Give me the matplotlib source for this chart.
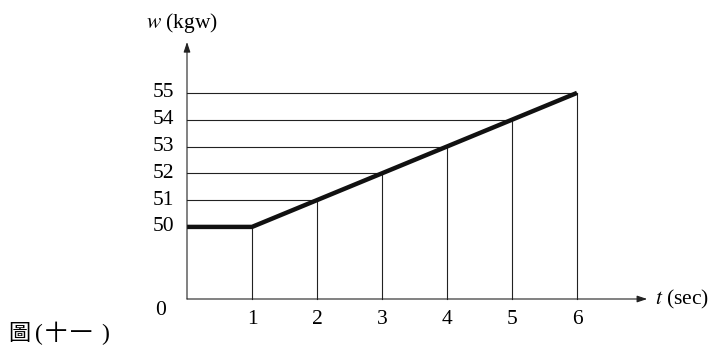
import matplotlib
matplotlib.use('Agg')
import matplotlib.pyplot as plt

# Данные графика
t_sec = [0, 1, 2, 3, 4, 5, 6]
w_kgw = [50, 50, 51, 52, 53, 54, 55]
x_ticks = [1, 2, 3, 4, 5, 6]
y_ticks = [51, 52, 53, 54, 55]

GAP = 2.69  # разрыв оси y между 0 и 50


def yp(w):
    # перевод веса в координату с разрывом оси
    return GAP + (w - 50)


plt.rcParams['font.family'] = ['Liberation Serif', 'DejaVu Serif']
plt.rcParams['mathtext.fontset'] = 'stix'

fig = plt.figure(figsize=(7.18, 3.52), dpi=100)
ax = fig.add_axes([0, 0, 1, 1])
ax.set_xlim(-187 / 65, (718 - 187) / 65)
ax.set_ylim((299 - 352) / 26.8, 299 / 26.8)
ax.axis('off')

lc = '#222222'
# вспомогательные линии
for t, w in zip(t_sec, w_kgw):
    if t > 0:
        ax.plot([t, t], [0, yp(w)], color=lc, lw=0.8)
for w in y_ticks:
    t = t_sec[w_kgw.index(w)]
    ax.plot([0, t], [yp(w), yp(w)], color=lc, lw=0.8)

# оси со стрелками
ax.annotate('', xy=(7.08, 0), xytext=(0, 0),
            arrowprops=dict(arrowstyle='-|>,head_length=0.6,head_width=0.2', color=lc, lw=0.8,
                            shrinkA=0, shrinkB=0))
ax.annotate('', xy=(0, 9.59), xytext=(0, 0),
            arrowprops=dict(arrowstyle='-|>,head_length=0.6,head_width=0.2', color=lc, lw=0.8,
                            shrinkA=0, shrinkB=0))

# основная линия
ax.plot(t_sec, [yp(w) for w in w_kgw], color='#111111', lw=3.2, solid_capstyle='butt')

fs = 15.5
for t in x_ticks:
    ax.text(t, -0.78, str(t), ha='center', va='center', fontsize=fs)
for w in [50] + y_ticks:
    ax.text(-0.2, yp(w), str(w), ha='right', va='center', fontsize=fs)
ax.text(-0.33, -0.43, '0', ha='right', va='center', fontsize=fs)

ax.text(7.2, 0, '$t$ (sec)', ha='left', va='center', fontsize=fs)
ax.text(-0.07, 10.3, '$w$ (kgw)', ha='center', va='center', fontsize=fs)

# подпись рисунка
cjk = ['Noto Sans CJK TC', 'Liberation Serif']
cy = 1 - 334 / 352
fig.text(8 / 718, cy, '圖', ha='left', va='center', fontsize=16, family=cjk)
fig.text(39 / 718, cy, '(', ha='center', va='center', fontsize=17)
fig.text(56 / 718, cy, '十', ha='center', va='center', fontsize=16, family=cjk)
fig.text(81 / 718, cy, '一', ha='center', va='center', fontsize=16, family=cjk)
fig.text(105 / 718, cy, ')', ha='center', va='center', fontsize=17)

fig.savefig('out.png', dpi=100)
